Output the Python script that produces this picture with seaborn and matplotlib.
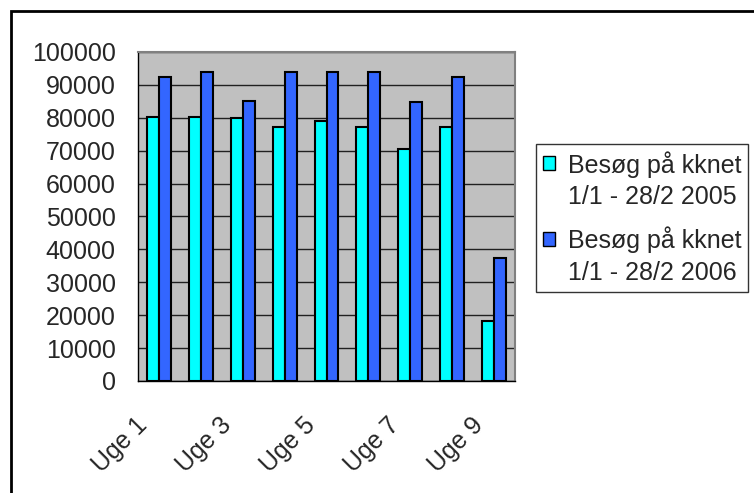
import matplotlib.pyplot as plt
import matplotlib.patches as mpatches
import matplotlib.transforms as mtransforms
from matplotlib.legend_handler import HandlerPatch
import pandas as pd
import seaborn as sns

weeks = ["Uge 1", "Uge 2", "Uge 3", "Uge 4", "Uge 5", "Uge 6", "Uge 7", "Uge 8", "Uge 9"]
visits_2005 = [80300, 80300, 79800, 77200, 79100, 77200, 70600, 77200, 18100]
visits_2006 = [92500, 93800, 85200, 93800, 93800, 93800, 84700, 92500, 37400]
series_labels = ["Besøg på kknet\n1/1 - 28/2 2005", "Besøg på kknet\n1/1 - 28/2 2006"]
shown_ticks = ["Uge 1", "", "Uge 3", "", "Uge 5", "", "Uge 7", "", "Uge 9"]
y_ticks = list(range(0, 100001, 10000))
colors = ["#00FFFF", "#3366FF"]

FS = 18

df = pd.DataFrame({
    "week": weeks * 2,
    "visits": visits_2005 + visits_2006,
    "series": [series_labels[0]] * len(weeks) + [series_labels[1]] * len(weeks),
})


class TopSquare(HandlerPatch):
    # put the legend square next to the first line of a two-line label
    def create_artists(self, legend, orig_handle, xdescent, ydescent,
                       width, height, fontsize, trans):
        p = mpatches.Rectangle(
            (-xdescent, -ydescent + 0.7 * fontsize), width, height,
            facecolor=orig_handle.get_facecolor(), edgecolor="black", linewidth=1,
        )
        p.set_transform(trans)
        return [p]


sns.set_style("white")
plt.rcParams["font.family"] = ["Liberation Sans", "DejaVu Sans"]

fig = plt.figure(figsize=(7.54, 4.93), dpi=100)
ax = fig.add_axes([138 / 754, 1 - 381 / 493, 377 / 754, 329 / 493])
ax.set_facecolor("#C0C0C0")

sns.barplot(
    data=df, x="week", y="visits", hue="series",
    palette=colors, width=0.57, edgecolor="black", linewidth=1.5,
    saturation=1, ax=ax,
)

ax.set_xlim(-0.5, 8.5)
ax.set_ylim(0, 100000)
ax.set_yticks(y_ticks)
ax.set_yticklabels([str(v) for v in y_ticks], fontsize=FS)
ax.set_xticks(range(len(weeks)))
ax.set_xticklabels(shown_ticks, rotation=45, ha="right", va="center",
                   rotation_mode="anchor", fontsize=FS)
ax.tick_params(axis="x", length=0, pad=29)
shift = mtransforms.ScaledTranslation(-15 / 100, 0, fig.dpi_scale_trans)
for lbl in ax.get_xticklabels():
    lbl.set_transform(lbl.get_transform() + shift)
ax.set_xticks([i - 0.5 for i in range(len(weeks) + 1)], minor=True)
ax.tick_params(axis="x", which="minor", length=6, width=1, color="black", direction="out")
ax.tick_params(axis="y", length=6, width=1, color="black", direction="out", pad=10)
ax.set_xlabel("")
ax.set_ylabel("")

ax.yaxis.grid(True, color="#202020", linewidth=1)
ax.set_axisbelow(True)
for side in ["top", "right"]:
    ax.spines[side].set_color("#808080")
    ax.spines[side].set_linewidth(1.5)
for side in ["left", "bottom"]:
    ax.spines[side].set_color("black")
    ax.spines[side].set_linewidth(1)

ax.legend_.remove()
handles = [mpatches.Patch(facecolor=c, edgecolor="black", linewidth=1) for c in colors]
leg = fig.legend(
    handles, series_labels, loc="upper left",
    bbox_to_anchor=(536 / 754, 1 - 144 / 493), fontsize=FS,
    frameon=True, fancybox=False, edgecolor="black",
    handlelength=0.48, handleheight=0.48, handletextpad=0.5,
    borderpad=0.28, labelspacing=0.7, borderaxespad=0,
    handler_map={mpatches.Patch: TopSquare()},
)
for t in leg.get_texts():
    t.set_linespacing(1.39)
leg.get_frame().set_linewidth(1)

border = mpatches.Rectangle(
    (11 / 754, -0.1), 2, 1 - 11 / 493 + 0.1, transform=fig.transFigure,
    fill=False, edgecolor="black", linewidth=2,
)
fig.patches.append(border)

fig.savefig("out.png", dpi=100)
